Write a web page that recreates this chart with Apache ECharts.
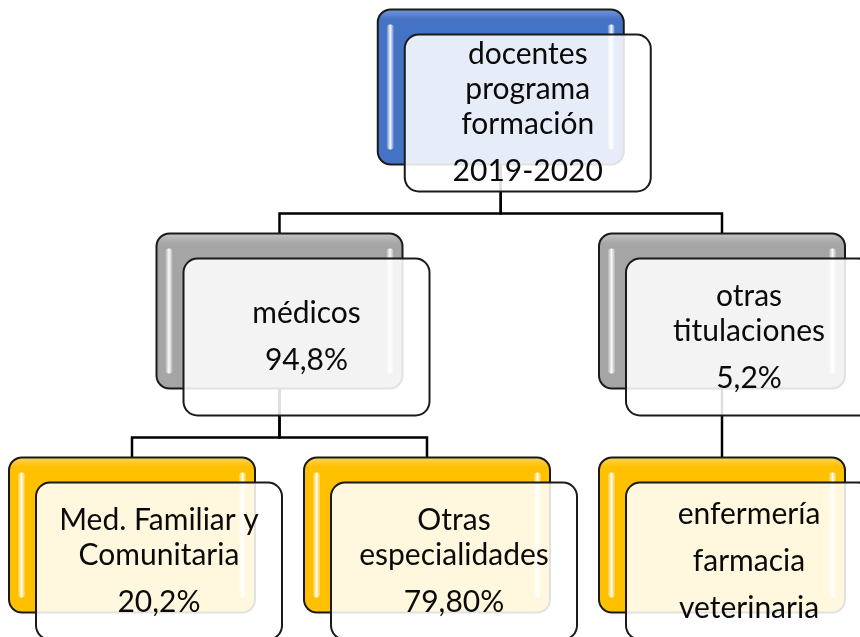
<!DOCTYPE html>
<html><head><meta charset="utf-8">
<script src="https://cdn.jsdelivr.net/npm/echarts@6/dist/echarts.min.js"></script>
<style>html,body{margin:0;padding:0;background:#fff}#c{width:860px;height:637px}</style>
</head><body><div id="c"></div>
<script>
// ---- data ----
const nodeLabels = [
  ['docentes\nprograma\nformación'],
  ['médicos'],
  ['otras\ntitulaciones'],
  ['Med. Familiar y\nComunitaria'],
  ['Otras\nespecialidades'],
  ['enfermería', 'farmacia', 'veterinaria']
];
const nodeShares = ['2019-2020', '94,8%', '5,2%', '20,2%', '79,80%', null];
const nodeParents = [-1, 0, 0, 1, 1, 2];

// ---- style constants ----
const depthColors = ['#4472c4', '#a5a5a5', '#ffc000'];
const depthLight = ['#7a9be0', '#c8c8c8', '#ffd65a'];
const BW = 246, BH = 155, FDX = 27, FDY = 25, FW = 246, FH = 157;
const FONT = 'Lato, "Open Sans", sans-serif';
const FS = 30, LINE = 35, PARA = 47;

// ---- tree layout (leaf slots, parents centred over children) ----
const n = nodeParents.length;
const children = nodeParents.map(() => []);
nodeParents.forEach((p, i) => { if (p >= 0) children[p].push(i); });
const depth = new Array(n).fill(0), xs = new Array(n).fill(0);
let leaf = 0;
function lay(i, d) {
  depth[i] = d;
  if (!children[i].length) { xs[i] = leaf++; return; }
  children[i].forEach(c => lay(c, d + 1));
  xs[i] = children[i].reduce((s, c) => s + xs[c], 0) / children[i].length;
}
lay(nodeParents.indexOf(-1), 0);
const maxDepth = Math.max(...depth);

const nodeData = xs.map((x, i) => [x, depth[i], i]);
const edgeData = [];
nodeParents.forEach((p, i) => { if (p >= 0) edgeData.push([xs[i], depth[i], xs[p], depth[p]]); });

const chart = echarts.init(document.getElementById('c'), null, {renderer: 'canvas'});

function renderEdge(params, api) {
  const c = api.coord([api.value(0), api.value(1)]);
  const p = api.coord([api.value(2), api.value(3)]);
  const pBottom = p[1] - BH / 2 + FDY + FH;
  const cTop = c[1] - BH / 2;
  const mid = Math.round((pBottom + cTop) / 2) + 0.5;
  return {
    type: 'polyline',
    shape: {points: [[p[0], p[1]], [p[0], mid], [c[0], mid], [c[0], c[1]]]},
    style: {stroke: '#000', lineWidth: 2.5, fill: null}
  };
}

function renderBack(params, api) {
  const c = api.coord([api.value(0), api.value(1)]);
  const d = api.value(1);
  const L = c[0] - BW / 2, T = c[1] - BH / 2;
  const col = depthColors[d];
  const strip = (x) => ({
    type: 'rect',
    shape: {x: x, y: T + 15, width: 7, height: BH - 30, r: 3},
    style: {fill: new echarts.graphic.LinearGradient(0, 0, 1, 0, [
      {offset: 0, color: 'rgba(255,255,255,0.15)'},
      {offset: 0.5, color: 'rgba(255,255,255,0.95)'},
      {offset: 1, color: 'rgba(255,255,255,0.15)'}
    ])}
  });
  return {
    type: 'group',
    children: [
      {type: 'rect', shape: {x: L, y: T, width: BW, height: BH, r: 13},
        style: {fill: new echarts.graphic.LinearGradient(0, 0, 0, 1, [
          {offset: 0, color: depthLight[d]},
          {offset: 0.07, color: col},
          {offset: 0.93, color: col},
          {offset: 1, color: col}
        ]), stroke: '#1a1a1a', lineWidth: 2}},
      strip(L + 9),
      strip(L + BW - 16)
    ]
  };
}

function renderFront(params, api) {
  const c = api.coord([api.value(0), api.value(1)]);
  const idx = api.value(2);
  const L = c[0] - BW / 2 + FDX, T = c[1] - BH / 2 + FDY;
  const cx = L + FW / 2, cy = T + FH / 2;
  const paras = nodeLabels[idx].slice();
  if (nodeShares[idx]) paras.push(nodeShares[idx]);
  const lines = [];
  let off = 0, first = true;
  paras.forEach(pg => {
    pg.split('\n').forEach((ln, k) => {
      if (!first) off += (k === 0 ? PARA : LINE);
      first = false;
      lines.push([ln, off]);
    });
  });
  const y0 = cy - off / 2;
  const kids = [
    {type: 'rect', shape: {x: L, y: T, width: FW, height: FH, r: 14},
      style: {fill: 'rgba(255,255,255,0.87)', stroke: '#1a1a1a', lineWidth: 2}}
  ];
  lines.forEach(([t, o]) => {
    kids.push({type: 'text', x: cx, y: y0 + o,
      style: {text: t, align: 'center', verticalAlign: 'middle',
        fontSize: FS, fontFamily: FONT, fill: '#0a0a0a'}});
  });
  return {type: 'group', children: kids};
}

chart.setOption({
  animation: false,
  backgroundColor: '#ffffff',
  grid: {left: 132, right: 138, top: 87, bottom: 102},
  xAxis: {type: 'value', min: 0, max: leaf - 1, show: false},
  yAxis: {type: 'value', min: 0, max: maxDepth, inverse: true, show: false},
  series: [
    {type: 'custom', z: 1, clip: false, renderItem: renderEdge, data: edgeData,
      encode: {x: [0, 2], y: [1, 3]}, silent: true},
    {type: 'custom', z: 2, clip: false, renderItem: renderBack, data: nodeData,
      encode: {x: 0, y: 1}, silent: true},
    {type: 'custom', z: 3, clip: false, renderItem: renderFront, data: nodeData,
      encode: {x: 0, y: 1}, silent: true}
  ]
});
</script>
</body></html>
